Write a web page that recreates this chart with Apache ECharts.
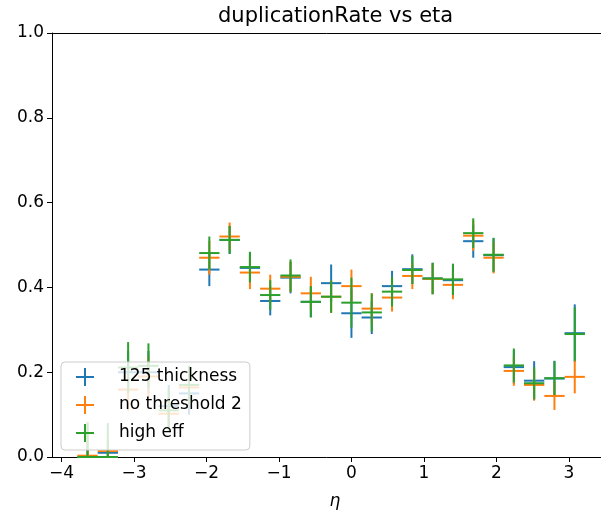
<!DOCTYPE html>
<html>
<head>
<meta charset="utf-8">
<script src="https://cdn.jsdelivr.net/npm/echarts@6/dist/echarts.min.js"></script>
<style>
  html, body { margin: 0; padding: 0; background: #fff; }
  #chart { width: 601px; height: 515px; }
</style>
</head>
<body>
<div id="chart"></div>
<script>
// bin centres in eta, half bin width used as x error
const eta = [-3.64, -3.36, -3.08, -2.80, -2.52, -2.24, -1.96, -1.68, -1.40, -1.12, -0.84, -0.56, -0.28,
             0.00, 0.28, 0.56, 0.84, 1.12, 1.40, 1.68, 1.96, 2.24, 2.52, 2.80, 3.08];
const etaHalfWidth = 0.14;

const seriesNames = ['125 thickness', 'no threshold 2', 'high eff'];

const thickRate = [0.0, 0.01, 0.20, 0.20, 0.12, 0.15, 0.442, 0.512, 0.446, 0.368, 0.423, 0.366, 0.410,
                   0.339, 0.329, 0.403, 0.443, 0.421, 0.417, 0.509, 0.476, 0.212, 0.180, 0.185, 0.292];
const thickErr = [0.06, 0.03, 0.05, 0.05, 0.05, 0.05, 0.039, 0.033, 0.036, 0.034, 0.037, 0.036, 0.044,
                  0.058, 0.039, 0.036, 0.035, 0.037, 0.037, 0.039, 0.04, 0.04, 0.046, 0.042, 0.068];

const noThrRate = [0.003, 0.014, 0.159, 0.19, 0.102, 0.164, 0.470, 0.520, 0.435, 0.397, 0.425, 0.386, 0.378,
                   0.403, 0.350, 0.376, 0.427, 0.420, 0.406, 0.522, 0.470, 0.203, 0.170, 0.144, 0.189];
const noThrErr = [0.08, 0.03, 0.05, 0.05, 0.04, 0.04, 0.04, 0.033, 0.039, 0.033, 0.036, 0.039, 0.038,
                  0.039, 0.036, 0.033, 0.031, 0.036, 0.034, 0.036, 0.037, 0.035, 0.037, 0.033, 0.039];

const highEffRate = [0.0, 0.0, 0.211, 0.215, 0.11, 0.17, 0.481, 0.512, 0.448, 0.382, 0.428, 0.366, 0.378,
                     0.364, 0.341, 0.390, 0.441, 0.421, 0.419, 0.528, 0.477, 0.216, 0.174, 0.186, 0.290];
const highEffErr = [0.08, 0.08, 0.06, 0.053, 0.05, 0.045, 0.039, 0.033, 0.036, 0.035, 0.038, 0.037, 0.038,
                    0.059, 0.045, 0.035, 0.033, 0.037, 0.037, 0.035, 0.04, 0.04, 0.038, 0.04, 0.063];

const xTicks = [-4, -3, -2, -1, 0, 1, 2, 3];

const colors = ['#1f77b4', '#ff7f0e', '#2ca02c'];
const font = 'DejaVu Sans';

function rows(vals, errs) {
    return eta.map((x, i) => [x, vals[i], etaHalfWidth, errs[i]]);
}

// matplotlib style errorbar: horizontal bar for the bin, vertical bar for the error
function renderItem(params, api) {
    const x = api.value(0);
    const y = api.value(1);
    const ex = api.value(2);
    const ey = api.value(3);
    const l = api.coord([x - ex, y]);
    const r = api.coord([x + ex, y]);
    const t = api.coord([x, Math.min(1, y + ey)]);
    const b = api.coord([x, Math.max(0, y - ey)]);
    const style = { stroke: api.visual('color'), lineWidth: 2, fill: null };
    return {
        type: 'group',
        children: [
            { type: 'line', shape: { x1: l[0], y1: l[1], x2: r[0], y2: r[1] }, style: style },
            { type: 'line', shape: { x1: t[0], y1: t[1], x2: b[0], y2: b[1] }, style: style }
        ]
    };
}

function minus(v) {
    return v < 0 ? '\u2212' + Math.abs(v) : String(v);
}

const plusIcon = 'path://M4.45,0 H5.55 V4.45 H10 V5.55 H5.55 V10 H4.45 V5.55 H0 V4.45 H4.45 Z';

const chart = echarts.init(document.getElementById('chart'));
const option = {
    animation: false,
    title: {
        text: 'duplicationRate vs eta',
        left: 213,
        top: 1,
        textStyle: { fontFamily: font, fontSize: 21, fontWeight: 'normal', color: '#000' }
    },
    legend: {
        orient: 'vertical',
        left: 61,
        top: 362,
        z: 20,
        itemWidth: 18,
        itemHeight: 18,
        itemGap: 10,
        padding: [6, 8, 8, 15],
        backgroundColor: 'rgba(255,255,255,0.8)',
        borderColor: '#cccccc',
        borderWidth: 1,
        borderRadius: 4,
        icon: plusIcon,
        textStyle: { fontFamily: font, fontSize: 17, color: '#000', padding: [0, 0, 0, 20] },
        data: seriesNames
    },
    grid: {
        left: 52,
        right: 0,
        top: 33,
        bottom: 54
    },
    xAxis: [{
        type: 'value',
        position: 'bottom',
        min: -4.13,
        max: 3.442,
        name: '\u03b7',
        nameLocation: 'middle',
        nameGap: 36,
        nameTextStyle: { fontFamily: font, fontSize: 17, fontStyle: 'italic', color: '#000',
                         padding: [0, 0, 0, 17] },
        splitLine: { show: false },
        axisLine: { show: true, onZero: false, lineStyle: { color: '#000', width: 1 } },
        axisTick: { show: true, length: 5, lineStyle: { color: '#000' }, customValues: xTicks },
        axisLabel: {
            customValues: xTicks,
            margin: 8,
            fontFamily: font, fontSize: 17, color: '#000',
            formatter: minus
        }
    }, {
        // top spine only
        type: 'value',
        position: 'top',
        min: -4.13,
        max: 3.442,
        axisLine: { show: true, onZero: false, lineStyle: { color: '#000', width: 1 } },
        axisTick: { show: false },
        axisLabel: { show: false },
        splitLine: { show: false }
    }],
    yAxis: {
        type: 'value',
        min: 0,
        max: 1,
        interval: 0.2,
        splitLine: { show: false },
        axisLine: { show: true, onZero: false, lineStyle: { color: '#000', width: 1 } },
        axisTick: { show: true, length: 5, lineStyle: { color: '#000' } },
        axisLabel: {
            margin: 8,
            fontFamily: font, fontSize: 17, color: '#000',
            formatter: v => v.toFixed(1)
        }
    },
    series: [
        { name: seriesNames[0], type: 'custom', renderItem: renderItem, itemStyle: { color: colors[0] },
          encode: { x: 0, y: 1 }, data: rows(thickRate, thickErr), z: 2 },
        { name: seriesNames[1], type: 'custom', renderItem: renderItem, itemStyle: { color: colors[1] },
          encode: { x: 0, y: 1 }, data: rows(noThrRate, noThrErr), z: 3 },
        { name: seriesNames[2], type: 'custom', renderItem: renderItem, itemStyle: { color: colors[2] },
          encode: { x: 0, y: 1 }, data: rows(highEffRate, highEffErr), z: 4 }
    ]
};
chart.setOption(option);
</script>
</body>
</html>
